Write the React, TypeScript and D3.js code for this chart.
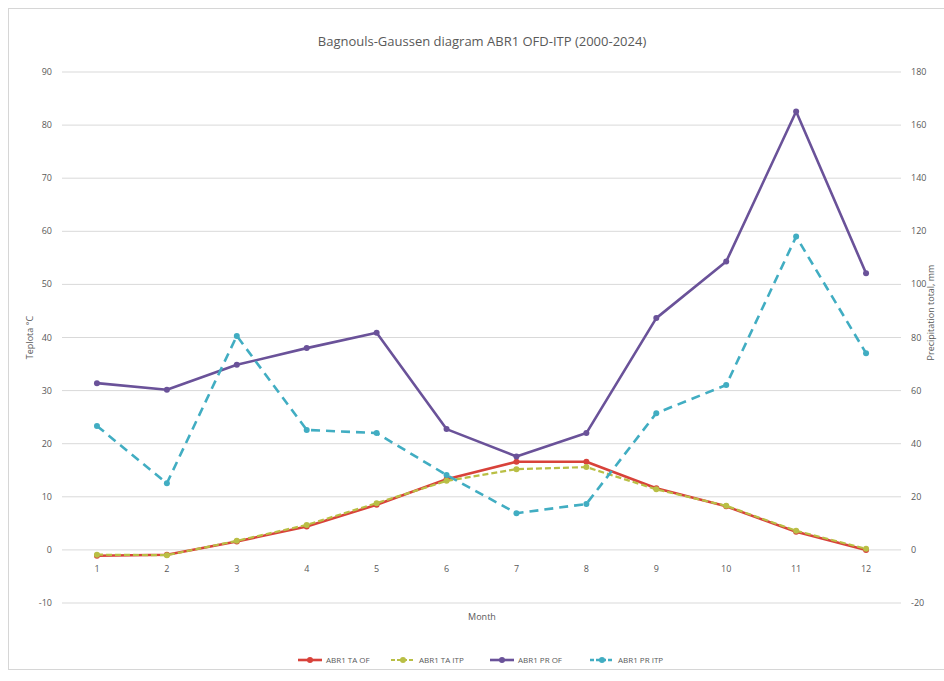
import React from "react";
import * as d3 from "d3";

// Monthly normals, 2000-2024
const months = [1, 2, 3, 4, 5, 6, 7, 8, 9, 10, 11, 12];
const tempOF = [-1.1, -0.9, 1.6, 4.4, 8.5, 13.3, 16.6, 16.6, 11.6, 8.2, 3.4, 0.0];
const tempITP = [-0.9, -1.0, 1.7, 4.7, 8.8, 13.0, 15.2, 15.6, 11.4, 8.3, 3.6, 0.2];
const precOF = [62.8, 60.3, 69.7, 76.0, 81.8, 45.5, 35.2, 44.0, 87.3, 108.6, 165.1, 104.2];
const precITP = [46.7, 25.1, 80.6, 45.2, 44.0, 28.2, 13.8, 17.3, 51.5, 62.1, 118.0, 74.1];
const tempTicks = [-10, 0, 10, 20, 30, 40, 50, 60, 70, 80, 90];
const precTicks = [-20, 0, 20, 40, 60, 80, 100, 120, 140, 160, 180];
const seriesNames = ["ABR1 TA OF", "ABR1 TA ITP", "ABR1 PR OF", "ABR1 PR ITP"];

const W = 944;
const H = 681;
const plot = { left: 62, right: 901, top: 72, bottom: 603 };
const FONT = "'Open Sans', 'Liberation Sans', sans-serif";
const TXT = "#595959";

export default function App() {
  const x = d3
    .scaleBand<number>()
    .domain(months)
    .range([plot.left, plot.right]);
  const xc = (m: number) => (x(m) as number) + x.bandwidth() / 2;
  const yT = d3.scaleLinear().domain([-10, 90]).range([plot.bottom, plot.top]);
  const yP = d3.scaleLinear().domain([-20, 180]).range([plot.bottom, plot.top]);

  const series = [
    { name: seriesNames[0], values: tempOF, y: yT, color: "#d8423a", width: 2.6, dash: "" },
    { name: seriesNames[1], values: tempITP, y: yT, color: "#b9bf45", width: 2.2, dash: "6,3" },
    { name: seriesNames[2], values: precOF, y: yP, color: "#6a5299", width: 2.6, dash: "" },
    { name: seriesNames[3], values: precITP, y: yP, color: "#41adc2", width: 2.6, dash: "9,6" },
  ];

  const legendX = [298, 391, 490, 590];
  const legendY = 660;

  return (
    <svg
      width={W}
      height={H}
      style={{ position: "absolute", left: 0, top: 0, background: "#fff" }}
      fontFamily={FONT}
    >
      <rect x={8.5} y={8.5} width={W} height={661} fill="#fff" stroke="#d6d6d6" />

      <text x={482} y={46} textAnchor="middle" fontSize={13} fill={TXT}>
        Bagnouls-Gaussen diagram ABR1 OFD-ITP (2000-2024)
      </text>

      {/* horizontal gridlines shared by both axes */}
      {tempTicks.map((t) => (
        <line
          key={t}
          x1={plot.left}
          x2={plot.right}
          y1={yT(t)}
          y2={yT(t)}
          stroke="#d9d9d9"
          strokeWidth={1}
        />
      ))}

      {tempTicks.map((t) => (
        <text key={t} x={52} y={yT(t) + 3} textAnchor="end" fontSize={9} fill={TXT}>
          {t}
        </text>
      ))}
      {precTicks.map((t) => (
        <text key={t} x={911} y={yP(t) + 3} textAnchor="start" fontSize={9} fill={TXT}>
          {t}
        </text>
      ))}

      {months.map((m) => (
        <text key={m} x={xc(m)} y={572} textAnchor="middle" fontSize={9} fill={TXT}>
          {m}
        </text>
      ))}

      <text x={482} y={620} textAnchor="middle" fontSize={9} fill={TXT}>
        Month
      </text>
      <text
        transform={`translate(33, ${(plot.top + plot.bottom) / 2}) rotate(-90)`}
        textAnchor="middle"
        fontSize={9}
        fill={TXT}
      >
        Teplota °C
      </text>
      <text
        transform={`translate(934, ${(plot.top + plot.bottom) / 2 - 25}) rotate(-90)`}
        textAnchor="middle"
        fontSize={9}
        fill={TXT}
      >
        Precipitation total, mm
      </text>

      {series.map((s) => {
        const line = d3
          .line<number>()
          .x((_, i) => xc(months[i]))
          .y((v) => s.y(v));
        return (
          <g key={s.name}>
            <path
              d={line(s.values) || ""}
              fill="none"
              stroke={s.color}
              strokeWidth={s.width}
              strokeDasharray={s.dash}
              strokeLinejoin="round"
            />
            {s.values.map((v, i) => (
              <circle key={i} cx={xc(months[i])} cy={s.y(v)} r={3} fill={s.color} />
            ))}
          </g>
        );
      })}

      {series.map((s, i) => (
        <g key={s.name} transform={`translate(${legendX[i]}, ${legendY})`}>
          <line
            x1={0}
            x2={24}
            y1={0}
            y2={0}
            stroke={s.color}
            strokeWidth={s.width}
            strokeDasharray={s.dash ? "4,2" : ""}
          />
          <circle cx={12} cy={0} r={3} fill={s.color} />
          <text x={28} y={3} fontSize={8} fill={TXT}>
            {s.name}
          </text>
        </g>
      ))}
    </svg>
  );
}
